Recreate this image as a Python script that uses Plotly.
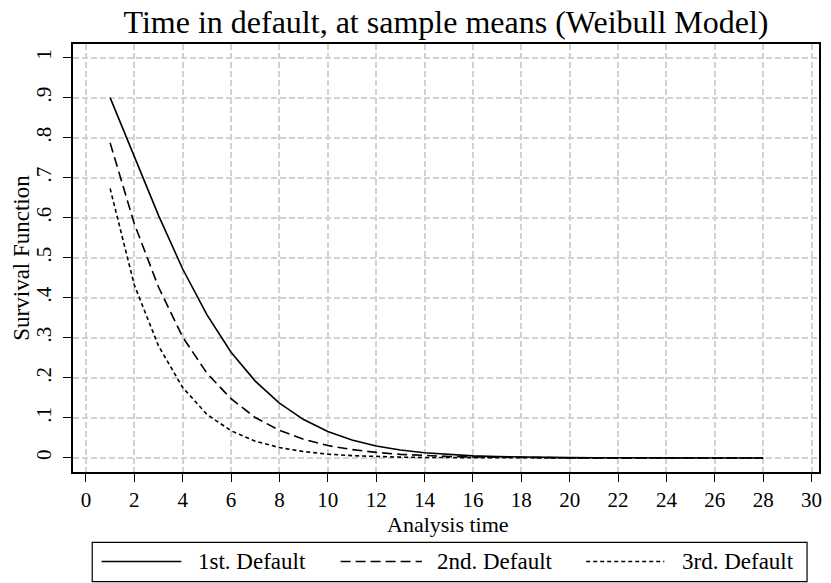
import plotly.graph_objects as go

# Predicted survival at sample means, by default episode
analysis_time = list(range(1, 29))

surv_1st = [0.900, 0.753, 0.606, 0.472, 0.358, 0.264, 0.192, 0.137, 0.096, 0.066,
            0.045, 0.030, 0.020, 0.013, 0.0083, 0.0053, 0.0033, 0.0020, 0.0012, 0.0008,
            0.0005, 0.0003, 0.0002, 0.0001, 0.0001, 0.0, 0.0, 0.0]
surv_2nd = [0.787, 0.585, 0.427, 0.302, 0.212, 0.148, 0.101, 0.069, 0.047, 0.031,
            0.021, 0.014, 0.0091, 0.0059, 0.0039, 0.0025, 0.0016, 0.0010, 0.0007, 0.0004,
            0.0003, 0.0002, 0.0001, 0.0001, 0.0, 0.0, 0.0, 0.0]
surv_3rd = [0.673, 0.432, 0.280, 0.176, 0.109, 0.068, 0.042, 0.026, 0.016, 0.0096,
            0.0058, 0.0035, 0.0021, 0.0013, 0.0008, 0.0005, 0.0003, 0.0002, 0.0001, 0.0001,
            0.0, 0.0, 0.0, 0.0, 0.0, 0.0, 0.0, 0.0]

series_names = ["1st. Default", "2nd. Default", "3rd. Default"]
series_values = [surv_1st, surv_2nd, surv_3rd]
series_dash = ["solid", "10px,5px", "4px,3px"]

x_tickvals = list(range(0, 31, 2))
y_tickvals = [0, 0.1, 0.2, 0.3, 0.4, 0.5, 0.6, 0.7, 0.8, 0.9, 1]
y_ticktext = ["0", ".1", ".2", ".3", ".4", ".5", ".6", ".7", ".8", ".9", "1"]

FONT = "Liberation Serif"
W, H = 831, 583
L, R, T, B = 73, 9, 44, 111

fig = go.Figure()
for name, vals, dash in zip(series_names, series_values, series_dash):
    fig.add_trace(go.Scatter(
        x=analysis_time, y=vals, name=name, mode="lines",
        line=dict(color="black", width=1.6, dash=dash),
        showlegend=False,
    ))

grid = dict(showgrid=True, gridcolor="#d2d2d2", gridwidth=1.5, griddash="6px,3px")
axis_common = dict(
    showline=True, linecolor="black", linewidth=1.6, mirror=True,
    ticks="outside", ticklen=8, tickwidth=1.3, tickcolor="black",
    zeroline=False, tickfont=dict(family=FONT, size=21, color="black"),
    **grid,
)

fig.update_xaxes(range=[-0.535, 30.31], tickvals=x_tickvals, **axis_common)
fig.update_yaxes(range=[-0.035, 1.034], tickvals=y_tickvals, ticktext=y_ticktext,
                 tickangle=-90, ticklabelstandoff=4, **axis_common)

plot_w = W - L - R
plot_h = H - T - B


def px_x(x):
    return (x - L) / plot_w


def px_y(y):
    return (H - B - y) / plot_h


annotations = [
    dict(text="Analysis time", x=px_x(450), y=px_y(524), xref="paper", yref="paper",
         xanchor="center", yanchor="middle", showarrow=False,
         font=dict(family=FONT, size=22, color="black")),
    dict(text="Survival Function", x=px_x(20.5), y=px_y(258), xref="paper", yref="paper",
         xanchor="center", yanchor="middle", textangle=-90, showarrow=False,
         font=dict(family=FONT, size=23, color="black")),
]

# Legend box drawn below the plot
shapes = [dict(type="rect", xref="paper", yref="paper",
               x0=px_x(92.3), x1=px_x(810), y0=px_y(542.3), y1=px_y(581.7),
               line=dict(color="black", width=1.2), fillcolor="white", layer="above")]
legend_y = 561.5
legend_slots = [(101.7, 181.7, 196.7), (341.7, 423.3, 436.7), (588.3, 666.7, 682.7)]
for name, dash, (lx0, lx1, tx) in zip(series_names, series_dash, legend_slots):
    shapes.append(dict(type="line", xref="paper", yref="paper",
                       x0=px_x(lx0), x1=px_x(lx1), y0=px_y(legend_y), y1=px_y(legend_y),
                       line=dict(color="black", width=1.5, dash=dash), layer="above"))
    annotations.append(dict(text=name, x=px_x(tx), y=px_y(legend_y), xref="paper", yref="paper",
                            xanchor="left", yanchor="middle", showarrow=False,
                            font=dict(family=FONT, size=23, color="black")))

fig.update_layout(
    width=W, height=H,
    margin=dict(l=L, r=R, t=T, b=B),
    paper_bgcolor="white", plot_bgcolor="white",
    title=dict(text="Time in default, at sample means (Weibull Model)",
               x=446 / W, xanchor="center", y=1 - 22 / H, yanchor="middle",
               font=dict(family=FONT, size=32, color="black")),
    annotations=annotations,
    shapes=shapes,
    showlegend=False,
)

fig.write_html("out.html")
